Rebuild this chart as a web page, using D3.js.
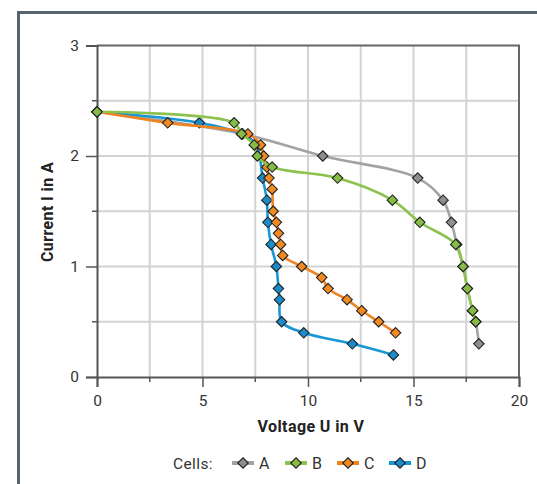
<!DOCTYPE html>
<html>
<head>
<meta charset="utf-8">
<script src="https://cdn.jsdelivr.net/npm/d3@7"></script>
<style>
  body { margin: 0; background: #fff; }
  svg { display: block; font-family: Roboto, 'Liberation Sans', sans-serif; }
</style>
</head>
<body>
<div class="chart"></div>
<script>
// cells A-D, voltage U (V) and current I (A)
const cells = ['A', 'B', 'C', 'D']
const colors = ['#a3a3a3', '#8cc24e', '#f0821f', '#1a96d4']
const markerFill = ['#8e8e8e', '#86bb45', '#f28a22', '#1a8ccc']

const uA = [0, 6.9, 10.7, 15.2, 16.4, 16.8, 17.05, 17.35, 17.55, 17.8, 17.95, 18.1]
const iA = [2.4, 2.2, 2.0, 1.8, 1.6, 1.4, 1.2, 1.0, 0.8, 0.6, 0.5, 0.3]

const uB = [0, 6.5, 6.85, 7.45, 7.6, 8.3, 11.4, 14.0, 15.3, 17.0, 17.35, 17.55, 17.8, 17.95]
const iB = [2.4, 2.3, 2.2, 2.1, 2.0, 1.9, 1.8, 1.6, 1.4, 1.2, 1.0, 0.8, 0.6, 0.5]

const uC = [0, 3.35, 7.15, 7.75, 7.9, 8.05, 8.15, 8.3, 8.35, 8.5, 8.6, 8.7, 8.8, 9.7, 10.65, 10.95, 11.85, 12.55, 13.35, 14.15]
const iC = [2.4, 2.3, 2.2, 2.1, 2.0, 1.9, 1.8, 1.7, 1.5, 1.4, 1.3, 1.2, 1.1, 1.0, 0.9, 0.8, 0.7, 0.6, 0.5, 0.4]

const uD = [0, 4.85, 6.85, 7.55, 7.85, 8.05, 8.1, 8.25, 8.5, 8.6, 8.65, 8.75, 9.8, 12.1, 14.05]
const iD = [2.4, 2.3, 2.2, 2.1, 1.8, 1.6, 1.4, 1.2, 1.0, 0.8, 0.7, 0.5, 0.4, 0.3, 0.2]

const xTicks = [0, 5, 10, 15, 20]
const yTicks = [0, 1, 2, 3]

const series = [uA, uB, uC, uD].map((u, k) => ({
  name: cells[k], color: colors[k], fill: markerFill[k],
  points: u.map((v, j) => ({ u: v, i: [iA, iB, iC, iD][k][j] }))
}))

const width = 537, height = 484
const plot = { left: 97, right: 519, top: 45.5, bottom: 377 }

const svg = d3.select('.chart').append('svg')
  .attr('width', width)
  .attr('height', height)

// outer frame
svg.append('path')
  .attr('d', `M18.5,${height + 5} V12.5 H${width + 5}`)
  .attr('fill', 'none')
  .attr('stroke', '#56646e')
  .attr('stroke-width', 3)

const x = d3.scaleLinear().domain([0, 20]).range([plot.left, plot.right])
const y = d3.scaleLinear().domain([0, 3]).range([plot.bottom, plot.top])

// gridlines every 2.5 V and 0.5 A
const grid = svg.append('g')
grid.selectAll('.gx')
  .data(d3.range(2.5, 20, 2.5))
  .enter().append('line')
  .attr('x1', d => x(d)).attr('x2', d => x(d))
  .attr('y1', plot.top).attr('y2', plot.bottom)
  .attr('stroke', '#d3d3d3').attr('stroke-width', 2)
grid.selectAll('.gy')
  .data(d3.range(0.5, 3, 0.5))
  .enter().append('line')
  .attr('x1', plot.left).attr('x2', plot.right)
  .attr('y1', d => y(d)).attr('y2', d => y(d))
  .attr('stroke', '#d3d3d3').attr('stroke-width', 2)

// plot border top/right
svg.append('path')
  .attr('d', `M${plot.left},${plot.top} H${plot.right} V${plot.bottom}`)
  .attr('fill', 'none')
  .attr('stroke', '#666')
  .attr('stroke-width', 2)

// axes
const xAxis = svg.append('g')
  .attr('transform', `translate(0,${plot.bottom})`)
  .call(d3.axisBottom(x).tickValues(xTicks).tickFormat(d3.format('d')).tickSize(10).tickPadding(8))
xAxis.append('g').selectAll('line')
  .data(d3.range(2.5, 20, 5))
  .enter().append('line')
  .attr('x1', d => x(d)).attr('x2', d => x(d))
  .attr('y1', 0).attr('y2', 5)
  .attr('stroke', '#555').attr('stroke-width', 1.5)

const yAxis = svg.append('g')
  .attr('transform', `translate(${plot.left},0)`)
  .call(d3.axisLeft(y).tickValues(yTicks).tickFormat(d3.format('d')).tickSize(11).tickPadding(7))
yAxis.append('g').selectAll('line')
  .data(d3.range(0.5, 3, 1))
  .enter().append('line')
  .attr('y1', d => y(d)).attr('y2', d => y(d))
  .attr('x1', 0).attr('x2', -5)
  .attr('stroke', '#555').attr('stroke-width', 1.5)

svg.selectAll('.domain').attr('stroke', '#555').attr('stroke-width', 2)
svg.selectAll('.tick line').attr('stroke', '#555').attr('stroke-width', 1.5)
svg.selectAll('.tick text')
  .attr('font-size', 15.5)
  .attr('fill', '#333')
  .attr('font-family', 'Roboto, sans-serif')

// axis titles
svg.append('text')
  .attr('x', (plot.left + plot.right) / 2 + 3)
  .attr('y', 432)
  .attr('text-anchor', 'middle')
  .attr('font-size', 16)
  .attr('letter-spacing', 0.4)
  .attr('font-weight', 'bold')
  .attr('fill', '#222')
  .text('Voltage U in V')

svg.append('text')
  .attr('transform', `translate(53,212) rotate(-90)`)
  .attr('text-anchor', 'middle')
  .attr('font-size', 16)
  .attr('letter-spacing', 0.4)
  .attr('font-weight', 'bold')
  .attr('fill', '#222')
  .text('Current I in A')

// curves
const line = d3.line()
  .x(d => x(d.u))
  .y(d => y(d.i))
  .curve(d3.curveCatmullRom.alpha(0.5))

const diamond = d3.symbol().type(d3.symbolDiamond2).size(70)

const drawOrder = [0, 3, 2, 1]
const lines = svg.append('g')
drawOrder.forEach(k => {
  const s = series[k]
  const g = lines.append('g')
  g.append('path')
    .attr('d', line(s.points))
    .attr('fill', 'none')
    .attr('stroke', s.color)
    .attr('stroke-width', 2.6)
  g.selectAll('path.m')
    .data(s.points)
    .enter().append('path')
    .attr('class', 'm')
    .attr('d', diamond)
    .attr('transform', d => `translate(${x(d.u)},${y(d.i)})`)
    .attr('fill', s.fill)
    .attr('stroke', '#222')
    .attr('stroke-width', 1.1)
})

// legend
const legend = svg.append('g').attr('transform', 'translate(0,463)')
legend.append('text')
  .attr('x', 173).attr('y', 5.5)
  .attr('font-size', 15.5)
  .attr('letter-spacing', 0.4)
  .attr('fill', '#333')
  .text('Cells:')

const legendX = [243, 296, 348, 400]
series.forEach((s, k) => {
  const cx = legendX[k]
  legend.append('line')
    .attr('x1', cx - 11).attr('x2', cx + 11)
    .attr('stroke', s.color).attr('stroke-width', 4)
  legend.append('path')
    .attr('d', diamond)
    .attr('transform', `translate(${cx},0)`)
    .attr('fill', s.fill)
    .attr('stroke', '#222')
    .attr('stroke-width', 1.1)
  legend.append('text')
    .attr('x', cx + 16).attr('y', 5.5)
    .attr('font-size', 16).attr('fill', '#333')
    .text(s.name)
})
</script>
</body>
</html>
